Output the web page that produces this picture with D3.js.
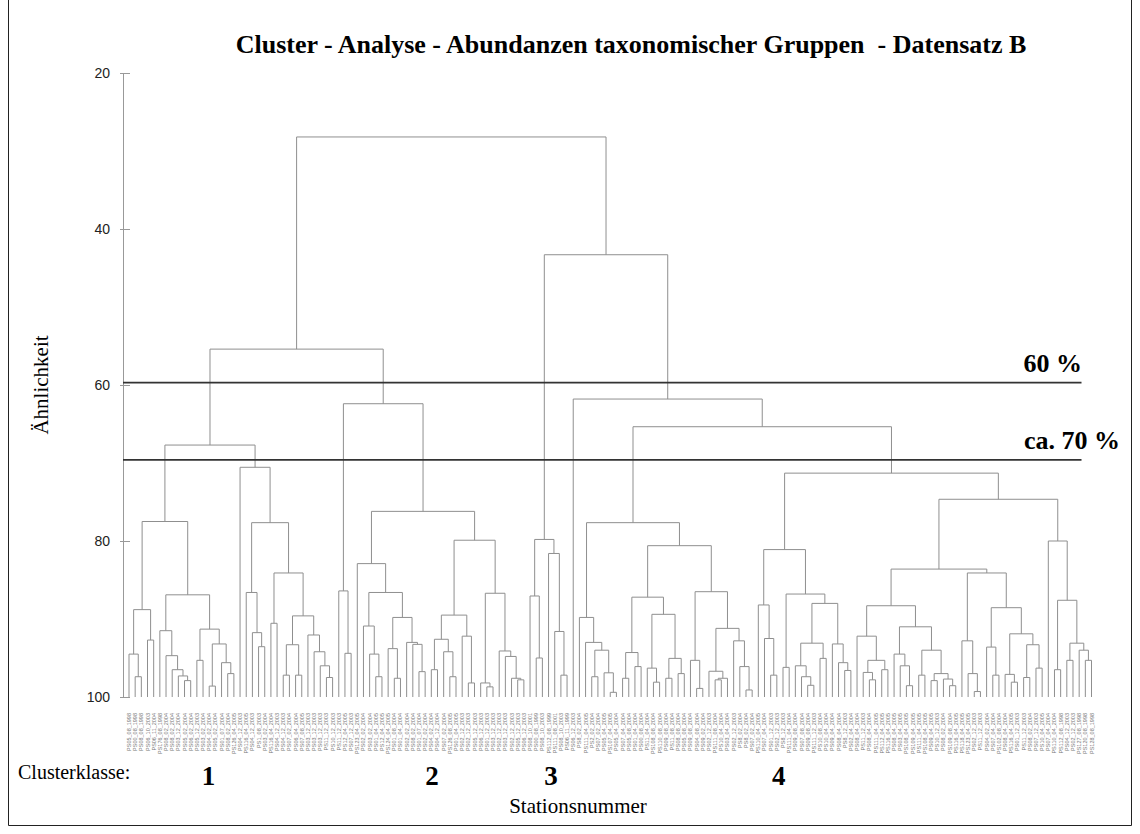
<!DOCTYPE html>
<html>
<head>
<meta charset="utf-8">
<script src="https://cdn.jsdelivr.net/npm/d3@7"></script>
<style>
  body { margin: 0; background: #fff; }
  svg { display: block; }
</style>
</head>
<body>
<div id="chart"></div>
<script>
'use strict';

// Dendrogram written as nested groups: '*' is one station (taken in order from the
// label lists), the number after ')' is the similarity (%) at which the group merges.

// Clusterklasse 1
const c1aLeft  = '((*,(*,*)97.4)94.5,(*,*)92.7)88.8';
const c1aRight = '((*,(*,(*,(*,(*,*)97.9)97.3)96.5)94.7)91.5,((*,*)95.3,((*,*)98.6,(*,(*,*)97.0)95.6)93.2)91.3)86.9';
const c1bY     = '(*,(*,(*,*)93.55)91.75)86.6';
const c1bZ     = '((*,*)90.55,(((*,*)97.2,(*,*)97.2)93.3,(*,(*,(*,(*,*)97.5)96.0)94.2)92.05)89.6)84.1';
const cluster1 = `((${c1aLeft},${c1aRight})77.5,(*,(${c1bY},${c1bZ})77.65)70.55)67.7`;

// Clusterklasse 2
const c2Left   = '(*,(*,*)94.4)86.4';
const c2P1     = '(*,(*,(*,*)97.4)94.5)90.9';
const c2P2     = '((*,(*,*)97.6)93.8,(*,(*,(*,*)96.75)93.25)93.0)89.8';
const c2Q1     = '(((*,*)96.5,(*,(*,*)97.4)94.2)92.6,(*,(*,*)98.2)92.2)89.5';
const c2Q2     = '((*,(*,*)98.7)98.2,(*,(*,(*,(*,*)97.8)97.6)94.8)94.1)86.7';
const cluster2 = `(${c2Left},((*,(${c2P1},${c2P2})86.6)82.9,(${c2Q1},${c2Q2})79.9)76.2)62.4`;

// Clusterklasse 3
const cluster3 = '((*,(*,*)95.0)87.05,(*,(*,(*,*)97.2)91.6)81.6)79.8';

// Clusterklasse 4
const c4LL     = '(*,(*,((*,*)97.4,(*,(*,*)99.4)96.9)94.0)93.0)89.8';
const c4LR1    = '(((*,*)97.6,(*,*)96.1)94.3,((*,(*,*)98.1)96.3,((*,*)97.6,(*,*)97.0)95.05)89.4)87.2';
const c4LR2    = '((*,(*,*)98.9)95.3,((*,((*,*)97.8,*)97.6)96.7,(*,(*,(*,*)99.1)96.1)92.8)91.2)86.5';
const c4RL     = '((*,(*,(*,*)97.2)92.5)88.2,((*,*)96.2,(((*,(*,(*,*)98.5)97.4)96.0,(*,*)95.05)93.1,(*,(*,(*,*)96.6)95.6)93.2)88.0)86.8)81.1';
const c4RR1a   = '((*,((*,(*,*)97.8)96.85,(*,*)96.5)95.3)92.2,((*,(*,(*,*)98.55)96.0)94.5,((*,*)97.2,((*,*)97.9,(*,(*,*)98.55)97.7)97.0)94.0)91.0)88.3';
const c4RR1b   = '((*,(*,(*,*)99.3)97.0)92.8,((*,(*,*)97.2)93.6,((*,(*,*)98.1)97.1,((*,*)97.5,(*,*)96.3)93.3)91.9)88.55)84.1';
const c4RR2    = '(*,((*,*)96.5,((*,*)95.3,(*,(*,*)95.3)94.0)93.1)87.6)80.0';
const cluster4 = `(*,((${c4LL},(${c4LR1},${c4LR2})80.6)77.65,(${c4RL},((${c4RR1a},${c4RR1b})83.6,${c4RR2})74.65)71.3)65.35)61.8`;

const treeString = `((${cluster1},${cluster2})55.4,(${cluster3},${cluster4})43.3)28.2`;

const labels1 = ['PS05_08_1998','PS00_08_1998','PS08_08_1998','PS06_10_2003','PS06_11_2004','PS176_08_1998',
  'PS08_02_2004','PS08_02_2004','PS03_12_2004','PS05_02_2004','PS06_02_2004','PS05_12_2003','PS03_02_2004',
  'PS04_02_2004','PS05_02_2004','PS01_07_2004','PS08_02_2004','PS126_04_2005','PS04_12_2003','PS116_04_2005',
  'PS04_12_2003','PS1_08_2003','PS03_02_2004','PS116_04_2004','PS04_12_2003','PS04_12_2003','PS07_02_2004',
  'PS06_04_2004','PS07_08_2005','PS03_12_2003','PS03_12_2003','PS03_12_2003','PS11_12_2003','PS10_12_2003'];
const labels2 = ['PS11_12_2003','PS12_04_2005','PS07_12_2003','PS123_04_2005','PS02_02_2004','PS03_02_2004',
  'PS01_04_2005','PS12_04_2005','PS124_04_2005','PS01_08_2004','PS01_04_2004','PS02_02_2004','PS08_02_2004',
  'PS01_07_2004','PS02_02_2004','PS04_02_2004','PS04_12_2004','PS07_02_2004','PS126_08_2005','PS01_04_2005',
  'PS02_12_2003','PS02_12_2003','PS05_12_2003','PS06_12_2003','PS01_12_2003','PS03_12_2003','PS02_12_2003',
  'PS03_12_2003','PS02_12_2003','PS05_12_2003','PS06_12_2003'];
const labels3 = ['PS08_10_2001','PS00_08_1999','PS08_10_2003','PS112_08_1999','PS111_08_2001','PS08_10_2003','PS06_11_1999'];
const labels4 = ['PS06_12_2003','PS8_02_2004','PS111_04_2005','PS2_02_2004','PS07_02_2004','PS05_04_2005',
  'PS107_04_2005','PS05_04_2004','PS07_04_2004','PS05_08_2004','PS01_04_2004','PS00_08_2004','PS11_04_2004',
  'PS108_08_2004','PS110_08_2004','PS09_08_2004','PS11_08_2004','PS08_08_2004','PS05_08_2004','PS09_08_2004',
  'PS04_08_2004','PS09_02_2004','PS02_12_2003','PS111_08_2004','PS10_04_2004','PS03_04_2004','PS02_12_2003',
  'PS8_02_2004','PS8_02_2004','PS07_02_2004','PS110_04_2005','PS07_04_2004','PS01_12_2003','PS02_12_2003',
  'PS8_12_2003','PS111_04_2004','PS09_08_2004','PS07_08_2004','PS09_08_2004','PS111_12_2003','PS10_08_2004',
  'PS10_04_2004','PS09_04_2004','PS08_04_2004','PS8_12_2003','PS02_04_2004','PS08_04_2004','PS11_12_2003',
  'PS08_04_2004','PS111_04_2005','PS112_04_2005','PS116_04_2005','PS08_04_2005','PS03_04_2005','PS108_04_2005',
  'PS109_04_2005','PS111_04_2005','PS108_04_2005','PS09_04_2005','PS10_12_2003','PS08_02_2004','PS109_08_2004',
  'PS116_04_2005','PS118_04_2005','PS123_04_2005','PS02_12_2003','PS11_12_2003','PS04_02_2004','PS07_04_2004',
  'PS102_08_2004','PS08_04_2004','PS116_04_2005','PS01_12_2003','PS11_12_2003','PS08_02_2004','PS07_12_2003',
  'PS10_04_2005','PS07_04_2004','PS110_04_2004','PS112_08_1998','PS04_12_2003','PS02_12_2003','PS127_08_1998',
  'PS120_08_1998','PS128_08_1998'];
const stationLabels = [...labels1, ...labels2, ...labels3, ...labels4];

const similarityTicks = [20, 40, 60, 80, 100];
const cutLevels = [59.7, 69.6];
const cutLabels = ['60 %', 'ca. 70 %'];
const clusterClasses = ['1', '2', '3', '4'];
const clusterCenters = [12.9, 49.1, 68.4, 105.3];   // leaf position under each class number


function parseTree(str) {
  let i = 0;
  const node = () => {
    if(str[i] === '*') {
      i++;
      return {};
    }
    i++;                                   // '('
    const children = [node()];
    while(str[i] === ',') {
      i++;
      children.push(node());
    }
    i++;                                   // ')'
    let num = '';
    while(i < str.length && /[0-9.]/.test(str[i])) num += str[i++];
    return {children: children, sim: +num};
  };
  return node();
}


function applyLayout(root, x, y) {
  root.leaves().forEach((d, i) => {
    d.index = i;
    d.label = stationLabels[i] || '';
    d.x = x(i);
  });
  root.eachAfter((d) => {
    if(d.children) d.x = d3.mean(d.children, c => c.x);
    d.y = y(d.children ? d.data.sim : 100);
  });
}


function init(parentNode) {
  const width = 1140;
  const height = 834;
  const serif = '"Liberation Serif", "Times New Roman", serif';
  const sans = '"Liberation Sans", Arial, sans-serif';

  const root = d3.hierarchy(parseTree(treeString.replace(/\s/g, '')));
  const n = root.leaves().length;

  const x = d3.scaleLinear().domain([0, n - 1]).range([129, 1091.5]);
  const y = d3.scaleLinear().domain([20, 100]).range([73, 697]);
  const axisX = x(0) - 6;

  applyLayout(root, x, y);

  const $svg = d3.select(parentNode).append('svg')
    .attr('width', width)
    .attr('height', height);

  // Frame.
  $svg.append('path')
    .attr('d', `M8.5,0V825.5H1131.5V0`)
    .attr('fill', 'none')
    .attr('stroke', '#222')
    .attr('stroke-width', 1);

  // Title.
  $svg.append('text')
    .attr('x', 631)
    .attr('y', 53)
    .attr('text-anchor', 'middle')
    .style('font', `bold 26px ${serif}`)
    .attr('fill', '#000')
    .attr('xml:space', 'preserve')
    .text('Cluster - Analyse - Abundanzen taxonomischer Gruppen  - Datensatz B');

  // Y axis.
  const $axis = $svg.append('g')
    .attr('transform', `translate(${axisX},0)`)
    .call(d3.axisLeft(y).tickValues(similarityTicks).tickSize(0).tickPadding(13).tickSizeOuter(0));
  $axis.select('.domain').attr('stroke', '#999');
  $axis.selectAll('.tick line')
    .attr('x1', -3)
    .attr('x2', 7)
    .attr('stroke', '#999');
  $axis.selectAll('.tick text')
    .style('font', `14px ${sans}`)
    .attr('fill', '#222');

  $svg.append('text')
    .attr('transform', `translate(48,${y(60)}) rotate(-90)`)
    .attr('text-anchor', 'middle')
    .style('font', `21px ${serif}`)
    .text('Ähnlichkeit');

  // Dendrogram links: horizontal bar per merge, vertical drop per child.
  const links = [];
  root.each((d) => {
    if(!d.children) return;
    const xs = d.children.map(c => c.x);
    links.push(`M${d3.min(xs)},${d.y}H${d3.max(xs)}`);
    d.children.forEach((c) => {
      links.push(`M${c.x},${d.y}V${c.y}`);
    });
  });
  $svg.append('path')
    .attr('class', 'links')
    .attr('d', links.join(''))
    .attr('fill', 'none')
    .attr('stroke', '#8f8f8f')
    .attr('stroke-width', 1);

  // Cut levels.
  const $cuts = $svg.append('g').selectAll('g')
    .data(cutLevels)
    .enter()
    .append('g');
  $cuts.append('line')
    .attr('x1', axisX)
    .attr('x2', x(n - 1) - 10)
    .attr('y1', d => y(d))
    .attr('y2', d => y(d))
    .attr('stroke', '#333')
    .attr('stroke-width', 1.6);
  $cuts.append('text')
    .attr('x', (d, i) => i ? 1120 : 1082)
    .attr('y', d => y(d) - 11)
    .attr('text-anchor', 'end')
    .style('font', `bold 26px ${serif}`)
    .text((d, i) => cutLabels[i]);

  // Station labels.
  $svg.append('g').selectAll('text')
    .data(root.leaves())
    .enter()
    .append('text')
    .attr('transform', d => `translate(${d.x + 2},${y(100) + 16}) rotate(-90)`)
    .attr('text-anchor', 'end')
    .style('font', `5.5px ${sans}`)
    .attr('fill', '#777')
    .text(d => d.label);

  // Cluster classes.
  $svg.append('text')
    .attr('x', 18)
    .attr('y', 779)
    .style('font', `20px ${serif}`)
    .text('Clusterklasse:');
  $svg.append('g').selectAll('text')
    .data(clusterClasses)
    .enter()
    .append('text')
    .attr('x', (d, i) => x(clusterCenters[i]))
    .attr('y', 785)
    .attr('text-anchor', 'middle')
    .style('font', `bold 27px ${serif}`)
    .text(d => d);

  $svg.append('text')
    .attr('x', 578)
    .attr('y', 813)
    .attr('text-anchor', 'middle')
    .style('font', `21px ${serif}`)
    .text('Stationsnummer');
}

init(document.getElementById('chart'));
</script>
</body>
</html>
